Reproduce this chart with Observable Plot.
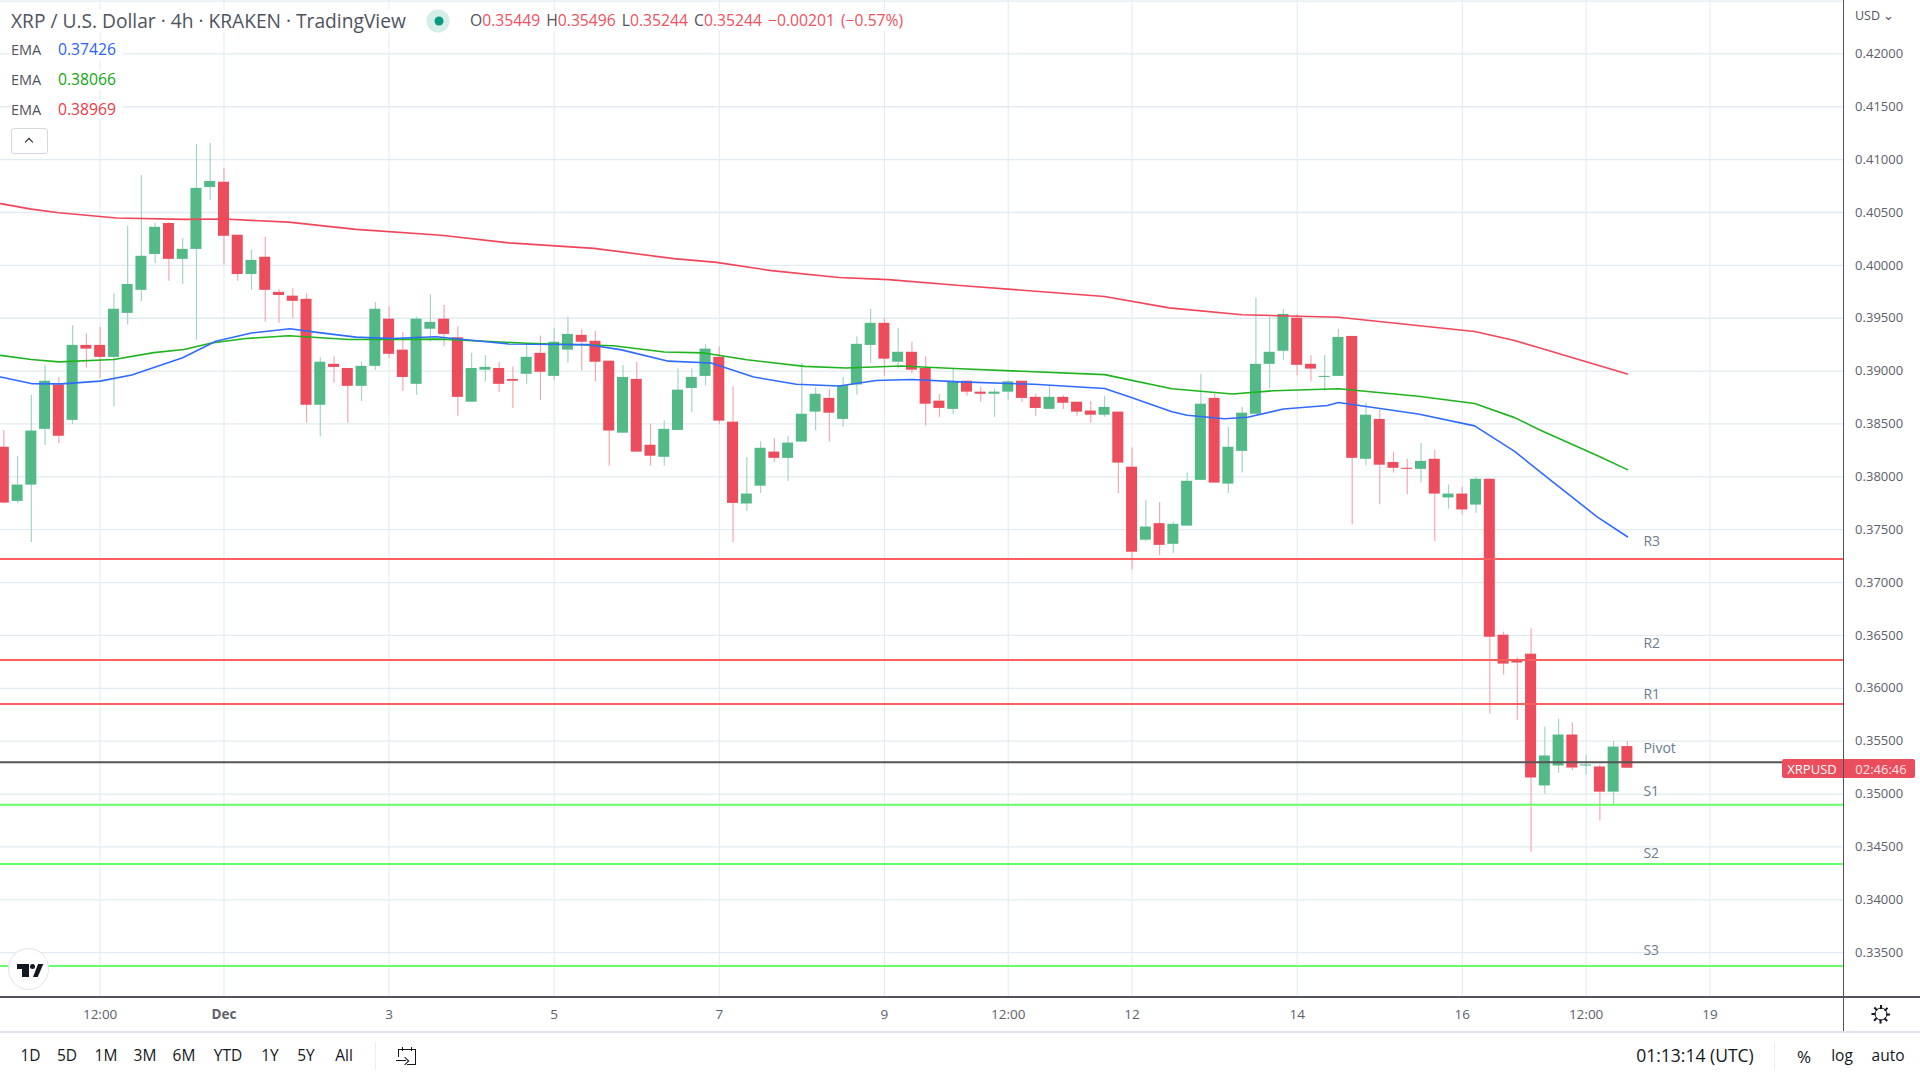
<!DOCTYPE html>
<html>
<head>
<meta charset="utf-8">
<script src="https://cdn.jsdelivr.net/npm/d3@7"></script>
<script src="https://cdn.jsdelivr.net/npm/@observablehq/plot@0.6"></script>
<style>
html,body{margin:0;padding:0;background:#fff;width:1920px;height:1080px;overflow:hidden;font-family:"Open Sans",sans-serif;}
#wrap{position:relative;width:1920px;height:1080px;}
#wrap svg{display:block;position:absolute;left:0;top:0;}
.a{position:absolute;white-space:nowrap;line-height:1;}
.c{transform:translate(-50%,-50%);}
.v{transform:translateY(-50%);}
.g{color:#50535e}
.r{color:#f0505f}
.w{background:#fff;padding:2px 8px 2px 0;}
.tb{font-size:15.5px;color:#131722;}
.k{background:#131722;}
</style>
</head>
<body>
<div id="wrap"></div>
<script>
// 4h candles of XRP/USD, first candle 28 Nov 2022 08:00 UTC
const firstCandle = Date.UTC(2022, 10, 28, 8);
const fourHours = 4 * 3600 * 1000;
const opens = [.38280,.37768,.37922,.38449,.38869,.38534,.39243,.39243,.39130,.39546,.39764,.40103,.40396,.40057,.40151,.40737,.40786,.40285,.39914,.40077,.39745,.39709,.39679,.38677,.39064,.39025,.38856,.39045,.39491,.39198,.38875,.39396,.39491,.39315,.38706,.39009,.39025,.38921,.38970,.39168,.38950,.39198,.39338,.39282,.39094,.38413,.38921,.38299,.38185,.38439,.38836,.38950,.39130,.38517,.37743,.37912,.38234,.38175,.38329,.38612,.38742,.38543,.38869,.39243,.39452,.39084,.39178,.39025,.38716,.38638,.38904,.38801,.38781,.38801,.38904,.38752,.38638,.38752,.38706,.38622,.38583,.38612,.38091,.37401,.37557,.37362,.37534,.37967,.38742,.37931,.38241,.38592,.39064,.39188,.39500,.39064,.38940,.38950,.39328,.38166,.38543,.38136,.38081,.38071,.38166,.37801,.37837,.37733,.37977,.36502,.36255,.36323,.35077,.35265,.35558,.35265,.35256,.35018,.35449];
const highs = [.38436,.38192,.38771,.39055,.38940,.39429,.39354,.39413,.39732,.40370,.40851,.40396,.40405,.40252,.41144,.41154,.40916,.40285,.40142,.40265,.39771,.39780,.39732,.39126,.39136,.39025,.39087,.39650,.39608,.39364,.39510,.39722,.39621,.39419,.39168,.39146,.39081,.39038,.39250,.39331,.39406,.39510,.39396,.39374,.39094,.39055,.39081,.38495,.38527,.39022,.39022,.39250,.39227,.38853,.38182,.38332,.38361,.38381,.39071,.38843,.38827,.38940,.39325,.39585,.39500,.39406,.39273,.39136,.38778,.39019,.38904,.38849,.38827,.38908,.38904,.38781,.38859,.38768,.38706,.38716,.38762,.38612,.38273,.37775,.37759,.37573,.38036,.38970,.38781,.38469,.38657,.39689,.39510,.39585,.39536,.39146,.39146,.39396,.39328,.38696,.38631,.38231,.38166,.38316,.38250,.37922,.37905,.37993,.37977,.36532,.36288,.36561,.35633,.35708,.35672,.35366,.35275,.35497,.35496];
const lows = [.37746,.37746,.37378,.38299,.38312,.38495,.39028,.38931,.38664,.39435,.39657,.40015,.39849,.39819,.39292,.40614,.40002,.39849,.39764,.39461,.39452,.39494,.38508,.38377,.38885,.38508,.38713,.39006,.39120,.38810,.38771,.39276,.39230,.38573,.38706,.38898,.38801,.38647,.38875,.38722,.38908,.39074,.39002,.38898,.38101,.38413,.38234,.38101,.38101,.38439,.38605,.38859,.38495,.37378,.37674,.37843,.38136,.37958,.38329,.38436,.38329,.38469,.38775,.39074,.38950,.39019,.38973,.38482,.38563,.38589,.38762,.38706,.38563,.38722,.38703,.38573,.38638,.38638,.38573,.38508,.38563,.37840,.37118,.37385,.37254,.37277,.37534,.37967,.37941,.37840,.38036,.38592,.38833,.39103,.38957,.38898,.38807,.38950,.37547,.38104,.37736,.38036,.37830,.37941,.37391,.37694,.37638,.37655,.35757,.36125,.35698,.34445,.34998,.35197,.35220,.35181,.34745,.34901,.35244];
const closes = [.37752,.37922,.38433,.38904,.38384,.39243,.39208,.39130,.39585,.39819,.40086,.40360,.40057,.40151,.40728,.40793,.40275,.39914,.40047,.39764,.39715,.39660,.38677,.39084,.39035,.38856,.39045,.39585,.39159,.38940,.39491,.39461,.39347,.38752,.39025,.39035,.38875,.38904,.39130,.38989,.39273,.39347,.39273,.39084,.38433,.38940,.38234,.38195,.38449,.38820,.38940,.39208,.38527,.37749,.37837,.38270,.38175,.38319,.38592,.38781,.38602,.38862,.39253,.39452,.39113,.39178,.39009,.38687,.38647,.38901,.38801,.38781,.38801,.38898,.38742,.38647,.38752,.38696,.38612,.38583,.38657,.38130,.37287,.37525,.37352,.37551,.37958,.38687,.37941,.38280,.38602,.39064,.39178,.39536,.39055,.39019,.38950,.39318,.38175,.38583,.38110,.38081,.38071,.38146,.37837,.37837,.37687,.37977,.36483,.36229,.36239,.35152,.35360,.35558,.35246,.35275,.35018,.35444,.35244];

// EMA readings: candle position counted from the first candle, then price
const emaBluePos = [-0.24,2,4.2,7,9.3,13,15.4,18,20.8,22.9,25.6,28.2,31.4,36.7,42.5,44.9,48.3,51.4,54.5,57.6,60.7,63.4,66,69.5,74.9,80,82,84.9,86,88.7,90.4,93,96.2,97,102.8,106.9,109.8,112.3,115.8,118];
const emaBlueVal = [.38944,.38882,.38879,.38905,.38963,.39126,.39282,.39360,.39400,.39364,.39321,.39308,.39325,.39256,.39250,.39201,.39094,.39077,.38944,.38875,.38859,.38911,.38921,.38898,.38875,.38836,.38749,.38615,.38583,.38550,.38563,.38641,.38674,.38703,.38595,.38482,.38241,.37980,.37622,.37433];
const emaGreenPos = [-0.24,2,4,8,10.9,13.1,15.1,17.6,20.7,25.1,31.8,38,44.3,48,50.9,54,58.2,61.2,65.2,69.5,80,84.9,89.3,92.3,97,102.8,106.9,109.8,111.6,115.8,118];
const emaGreenVal = [.39149,.39110,.39087,.39110,.39175,.39204,.39266,.39308,.39334,.39299,.39302,.39263,.39240,.39181,.39172,.39107,.39045,.39029,.39048,.39022,.38967,.38833,.38784,.38814,.38833,.38762,.38693,.38560,.38446,.38202,.38068];
const emaRedPos = [-0.24,2,4,8.2,13.1,16,20.7,25.6,31.8,36.7,42.9,48.7,51.8,55.8,60.7,64.3,69.5,80,84.7,90,97,106.9,109.8,111.4,118];
const emaRedVal = [.40584,.40532,.40497,.40448,.40435,.40438,.40409,.40340,.40285,.40213,.40161,.40064,.40028,.39950,.39885,.39865,.39810,.39705,.39598,.39533,.39510,.39374,.39289,.39227,.38973];

// pivot levels
const levelNames = ["R3","R2","R1","Pivot","S1","S2","S3"];
const levelValues = [.37222,.36268,.35851,.35301,.34898,.34338,.33374];
const levelColors = ["#ff5f5f","#ff5f5f","#ff5f5f","#555555","#66ff66","#66ff66","#66ff66"];
const levelLabelPrices = [.37385,.36428,.35942,.35435,.35027,.34436,.33522];
const levelLabelDate = new Date(Date.UTC(2022, 11, 18, 4, 40));

// axes
const yTicks = [.335,.34,.345,.35,.355,.36,.365,.37,.375,.38,.385,.39,.395,.40,.405,.41,.415,.42];
const yGridExtra = [.425];
const xTickDates = [[10,29,12],[11,1,0],[11,3,0],[11,5,0],[11,7,0],[11,9,0],[11,10,12],[11,12,0],[11,14,0],[11,16,0],[11,17,12],[11,19,0]].map(([m,d,h]) => new Date(Date.UTC(2022,m,d,h)));
const xTickLabels = ["12:00","Dec","3","5","7","9","12:00","12","14","16","12:00","19"];
const xDomain = [new Date(Date.UTC(2022,10,28,7,2)), new Date(Date.UTC(2022,11,20,15))];
const yDomain = [.33073,.42505];

const candles = opens.map((o,i) => ({
  date: new Date(firstCandle + i*fourHours),
  left: new Date(firstCandle + (i-0.4)*fourHours),
  right: new Date(firstCandle + (i+0.4)*fourHours),
  open:o, high:highs[i], low:lows[i], close:closes[i], up:closes[i] >= o
}));
const emaRows = (pos,val) => pos.map((p,i) => ({date:new Date(firstCandle + p*fourHours), value:val[i]}));
const levels = levelNames.map((n,i) => ({name:n, value:levelValues[i], color:levelColors[i], labelPrice:levelLabelPrices[i]}));

const gridColor = "#e1ebf1";
const chart = Plot.plot({
  width:1920, height:1031,
  marginLeft:0, marginRight:76.4, marginTop:0, marginBottom:33.7,
  style:{fontFamily:"'Open Sans', sans-serif", background:"#fff", overflow:"hidden"},
  x:{type:"utc", domain:xDomain},
  y:{domain:yDomain},
  marks:[
    Plot.gridY(yTicks.concat(yGridExtra), {stroke:gridColor, strokeOpacity:1, strokeWidth:1.3}),
    Plot.gridX(xTickDates, {stroke:"#e3ecf1", strokeOpacity:1, strokeWidth:1.1}),
    Plot.ruleX(candles, {x:"date", y1:"low", y2:"high", stroke:d=>d.up?"#a3d6c4":"#f6a8b1", strokeWidth:1.2}),
    Plot.rect(candles, {x1:"left", x2:"right", y1:"open", y2:"close", fill:d=>d.up?"#53b987":"#eb4d5c"}),
    Plot.line(emaRows(emaRedPos,emaRedVal), {x:"date", y:"value", stroke:"#f2455a", strokeWidth:1.6}),
    Plot.line(emaRows(emaGreenPos,emaGreenVal), {x:"date", y:"value", stroke:"#1fb31f", strokeWidth:1.6}),
    Plot.line(emaRows(emaBluePos,emaBlueVal), {x:"date", y:"value", stroke:"#2f6bff", strokeWidth:1.6}),
    Plot.ruleY(levels, {y:"value", stroke:"color", strokeWidth:2}),
    Plot.text(levels, {x:()=>levelLabelDate, y:"labelPrice", text:"name", textAnchor:"start", fill:"#6b7c8c", fontSize:14}),
    Plot.axisY({ticks:yTicks, anchor:"right", tickSize:0, tickPadding:11, tickFormat:d3.format(".5f"), fontSize:13, color:"#5d606b", label:null}),
    Plot.axisX({ticks:xTickDates, anchor:"bottom", tickSize:0, tickPadding:11.5, tickFormat:(d,i)=>xTickLabels[i], fontSize:13.5, color:"#5d606b", label:null})
  ]
});
d3.select(chart).selectAll("text").filter(function(){return this.textContent==="Dec";}).attr("font-weight","bold").style("font-weight","700");

const wrap = document.getElementById("wrap");
wrap.appendChild(chart);
const overlay = document.createElement("div");
overlay.innerHTML = `
<div class="a" style="left:0;top:996.4px;width:1920px;height:1.6px;background:#50535e"></div>
<div class="a" style="left:1843px;top:0;width:1.4px;height:1031px;background:#50535e"></div>
<div class="a" style="left:0;top:1031px;width:1920px;height:1.6px;background:#e0e3eb"></div>

<div class="a v w g" style="left:11px;top:21px;font-size:19.2px">XRP / U.S. Dollar · 4h · KRAKEN · TradingView</div>
<div class="a c" style="left:438px;top:21px;width:23px;height:23px;border-radius:50%;background:#d5eeea"></div>
<div class="a c" style="left:438.5px;top:21px;width:9px;height:9px;border-radius:50%;background:#089981"></div>
<div class="a v g w" style="left:470px;top:21px;font-size:15.7px;word-spacing:2px">O<span class="r">0.35449</span> H<span class="r">0.35496</span> L<span class="r">0.35244</span> C<span class="r">0.35244 −0.00201 (−0.57%)</span></div>
<div class="a v g w" style="left:11px;top:50px;font-size:14.5px;width:104px">EMA</div><div class="a v" style="left:58px;top:50px;font-size:15.7px;color:#2962ff">0.37426</div>
<div class="a v g w" style="left:11px;top:80px;font-size:14.5px;width:104px">EMA</div><div class="a v" style="left:58px;top:80px;font-size:15.7px;color:#0fa80f">0.38066</div>
<div class="a v g w" style="left:11px;top:110px;font-size:14.5px;width:104px">EMA</div><div class="a v" style="left:58px;top:110px;font-size:15.7px;color:#f23645">0.38969</div>
<div class="a" style="left:11px;top:128px;width:35px;height:24px;border:1px solid #d6d8e0;border-radius:3px;background:#fff"></div>
<div class="a" style="left:26px;top:139px;width:5px;height:5px;border-left:1.6px solid #131722;border-top:1.6px solid #131722;transform:rotate(45deg)"></div>
<div class="a" style="left:8px;top:948px;width:39px;height:40px;border:1.5px solid #e3e5ea;border-radius:50%;background:#fff"></div>
<div class="a k" style="left:17px;top:963.5px;width:12px;height:5px"></div>
<div class="a k" style="left:22px;top:963.5px;width:7px;height:13.5px"></div>
<div class="a k" style="left:30px;top:964px;width:5px;height:5px;border-radius:50%"></div>
<div class="a k" style="left:33px;top:963.5px;width:10.5px;height:13.5px;clip-path:polygon(50% 0,100% 0,45% 100%,0 100%)"></div>

<div class="a v" style="left:1855px;top:16px;font-size:12.5px;color:#50535e">USD ⌄</div>
<div class="a" style="left:1782px;top:759px;width:61px;height:19px;background:#ea4d5c;border-radius:2px 0 0 2px"></div>
<div class="a" style="left:1844px;top:759px;width:71px;height:19px;background:#ea4d5c;border-radius:0 2px 2px 0"></div>
<div class="a c" style="left:1812px;top:769px;font-size:13px;color:#fff">XRPUSD</div>
<div class="a c" style="left:1881px;top:769px;font-size:13px;color:#fde3e6">02:46:46</div>
<div class="a c" style="left:1881px;top:1014.3px;width:11px;height:11px;border:1.5px solid #131722;border-radius:50%"></div>
${[0,45,90,135,180,225,270,315].map(a=>`<div class="a k" style="left:1880.3px;top:1005px;width:1.5px;height:3.5px;transform-origin:50% 9.3px;transform:rotate(${a}deg)"></div>`).join("")}

<div class="a c tb" style="left:30.5px;top:1055.5px">1D</div>
<div class="a c tb" style="left:67px;top:1055.5px">5D</div>
<div class="a c tb" style="left:106px;top:1055.5px">1M</div>
<div class="a c tb" style="left:145px;top:1055.5px">3M</div>
<div class="a c tb" style="left:184px;top:1055.5px">6M</div>
<div class="a c tb" style="left:228px;top:1055.5px">YTD</div>
<div class="a c tb" style="left:270px;top:1055.5px">1Y</div>
<div class="a c tb" style="left:306px;top:1055.5px">5Y</div>
<div class="a c tb" style="left:344px;top:1055.5px">All</div>
<div class="a" style="left:375px;top:1042px;width:1px;height:28px;background:#eceef2"></div>
<div class="a k" style="left:398px;top:1049px;width:18px;height:1.4px"></div>
<div class="a k" style="left:398px;top:1049px;width:1.4px;height:8px"></div>
<div class="a k" style="left:415px;top:1049px;width:1.4px;height:15px"></div>
<div class="a k" style="left:407px;top:1063.6px;width:9px;height:1.4px"></div>
<div class="a k" style="left:402px;top:1046.5px;width:1.4px;height:4px"></div>
<div class="a k" style="left:411px;top:1046.5px;width:1.4px;height:4px"></div>
<div class="a k" style="left:396px;top:1060px;width:10px;height:1.4px"></div>
<div class="a" style="left:402px;top:1057.5px;width:5px;height:5px;border-right:1.4px solid #131722;border-top:1.4px solid #131722;transform:rotate(45deg)"></div>
<div class="a c tb" style="left:1695px;top:1055.5px;font-size:17.5px">01:13:14 (UTC)</div>
<div class="a" style="left:1774px;top:1042px;width:1px;height:28px;background:#eceef2"></div>
<div class="a c tb" style="left:1804px;top:1055.5px;font-size:17px">%</div>
<div class="a c tb" style="left:1842px;top:1055.5px">log</div>
<div class="a c tb" style="left:1888px;top:1055.5px">auto</div>
`;
wrap.appendChild(overlay);
</script>
</body>
</html>
